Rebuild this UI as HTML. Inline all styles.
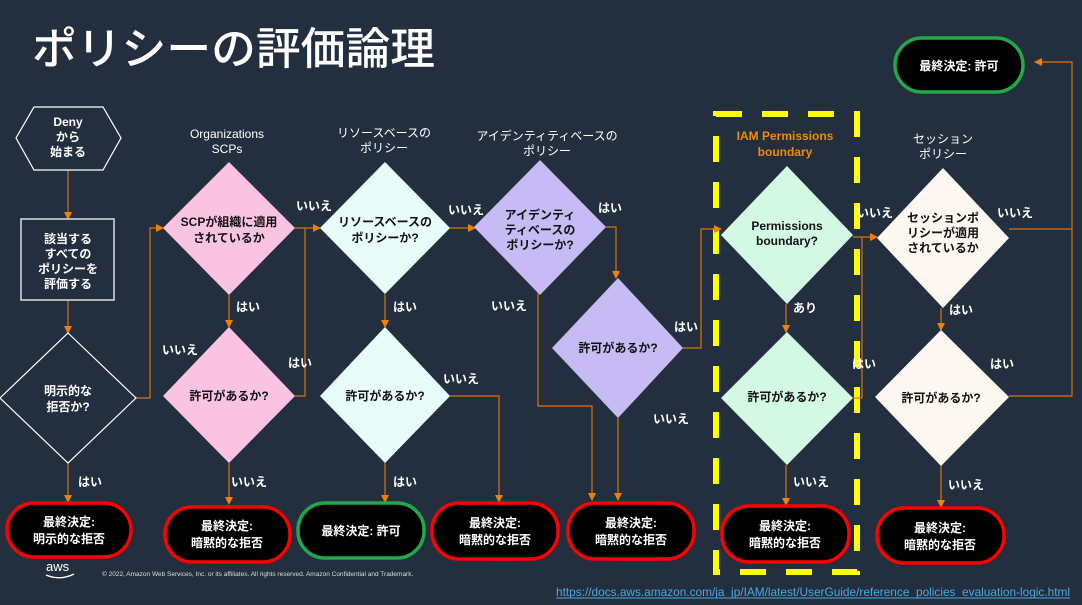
<!DOCTYPE html>
<html><head><meta charset="utf-8"><style>
html,body{margin:0;padding:0;background:#232f3e;}
svg{display:block;}
text{font-family:"Liberation Sans","Noto Sans CJK JP",sans-serif;}
.w{fill:#fff;font-weight:bold;font-size:12px;text-anchor:middle;}
.h{fill:#fff;font-size:12px;text-anchor:middle;}
.d{fill:#111;font-weight:bold;font-size:12px;text-anchor:middle;}
.c{stroke:#d9730d;stroke-width:1.2;fill:none;}
.lb{fill:#fff;font-weight:bold;font-size:12px;}
</style></head><body>
<svg width="1082" height="605" viewBox="0 0 1082 605" xmlns="http://www.w3.org/2000/svg">
<defs>
<marker id="a" markerWidth="8" markerHeight="8" refX="7" refY="4" orient="auto" markerUnits="userSpaceOnUse">
<path d="M0,0 L8,4 L0,8 Z" fill="#f08000"/></marker>
</defs>
<rect width="1082" height="605" fill="#232f3e"/>
<text x="32" y="64" fill="#fff" font-size="44" font-weight="500" textLength="403" lengthAdjust="spacingAndGlyphs">ポリシーの評価論理</text>

<!-- yellow dashed -->
<rect x="716" y="114" width="141" height="458" fill="none" stroke="#ffff00" stroke-width="6" stroke-dasharray="26,20"/>

<!-- connectors -->
<path class="c" d="M68,170 V219" marker-end="url(#a)"/>
<path class="c" d="M68,300 V333" marker-end="url(#a)"/>
<path class="c" d="M68,463 V502" marker-end="url(#a)"/>
<path class="c" d="M136,398 H150 V228 H163" marker-end="url(#a)"/>
<path class="c" d="M229,295 V327" marker-end="url(#a)"/>
<path class="c" d="M295,228 H320" marker-end="url(#a)"/>
<path class="c" d="M295,396 H305 V228"/>
<path class="c" d="M229,463 V504" marker-end="url(#a)"/>
<path class="c" d="M450,228 H475" marker-end="url(#a)"/>
<path class="c" d="M385,294 V327" marker-end="url(#a)"/>
<path class="c" d="M385,463 V502" marker-end="url(#a)"/>
<path class="c" d="M450,396 H499 V502" marker-end="url(#a)"/>
<path class="c" d="M538,290 V406 H592 V500" marker-end="url(#a)"/>
<path class="c" d="M618,418 V500" marker-end="url(#a)"/>
<path class="c" d="M606,227 H616 V278" marker-end="url(#a)"/>
<path class="c" d="M683,348 H701 V229 H721" marker-end="url(#a)"/>
<path class="c" d="M786,304 V332" marker-end="url(#a)"/>
<path class="c" d="M786,465 V505" marker-end="url(#a)"/>
<path class="c" d="M853,237 H877" marker-end="url(#a)"/>
<path class="c" d="M853,398 H862 V237"/>
<path class="c" d="M941,308 V330" marker-end="url(#a)"/>
<path class="c" d="M941,466 V507" marker-end="url(#a)"/>
<path class="c" d="M1009,229 H1072"/>
<path class="c" d="M1009,396 H1072 V62 H1035" marker-end="url(#a)"/>

<!-- start nodes -->
<polygon points="34,107 103,107 121,138 103,170 34,170 16,138" fill="none" stroke="#fff" stroke-width="1.2"/>
<text class="w" x="68" y="126">Deny</text><text class="w" x="68" y="141">から</text><text class="w" x="68" y="156">始まる</text>
<rect x="21" y="219" width="93" height="81" fill="none" stroke="#ddd" stroke-width="1.5"/>
<text class="w" x="68" y="243">該当する</text><text class="w" x="68" y="258">すべての</text><text class="w" x="68" y="273">ポリシーを</text><text class="w" x="68" y="288">評価する</text>
<polygon points="68,333 136,398 68,463 0,398" fill="none" stroke="#fff" stroke-width="1.2"/>
<text class="w" x="68" y="395">明示的な</text><text class="w" x="68" y="411">拒否か?</text>

<!-- headers -->
<text class="h" x="227" y="138">Organizations</text><text class="h" x="227" y="153">SCPs</text>
<text class="h" x="384" y="137">リソースベースの</text><text class="h" x="384" y="152">ポリシー</text>
<text class="h" x="547" y="140">アイデンティティベースの</text><text class="h" x="547" y="155">ポリシー</text>
<text x="785" y="140" fill="#f08a00" font-weight="bold" font-size="12" text-anchor="middle">IAM Permissions</text>
<text x="785" y="156" fill="#f08a00" font-weight="bold" font-size="12" text-anchor="middle">boundary</text>
<text class="h" x="943" y="143">セッション</text><text class="h" x="943" y="158">ポリシー</text>

<!-- diamonds -->
<polygon points="229,162 295,228 229,295 163,228" fill="#fbc3e2"/>
<text class="d" x="229" y="226">SCPが組織に適用</text><text class="d" x="229" y="242">されているか</text>
<polygon points="229,327 295,396 229,463 163,396" fill="#fbc3e2"/>
<text class="d" x="229" y="400">許可があるか?</text>
<polygon points="385,162 450,228 385,294 320,228" fill="#e8fdfa"/>
<text class="d" x="385" y="226">リソースベースの</text><text class="d" x="385" y="242">ポリシーか?</text>
<polygon points="540,160 606,227 540,295 474,227" fill="#c7bbf5"/>
<text class="d" x="540" y="219">アイデンティ</text><text class="d" x="540" y="234">ティベースの</text><text class="d" x="540" y="249">ポリシーか?</text>
<polygon points="385,327 450,396 385,463 320,396" fill="#e8fdfa"/>
<text class="d" x="385" y="400">許可があるか?</text>
<polygon points="618,278 683,348 618,418 552,348" fill="#c7bbf5"/>
<text class="d" x="618" y="352">許可があるか?</text>
<polygon points="787,166 853,235 787,304 721,235" fill="#d3f9e5"/>
<text class="d" x="787" y="230">Permissions</text><text class="d" x="787" y="245">boundary?</text>
<polygon points="787,332 853,398 787,465 721,398" fill="#d3f9e5"/>
<text class="d" x="787" y="401">許可があるか?</text>
<polygon points="943,168 1009,238 943,308 877,238" fill="#fdf7f2"/>
<text class="d" x="943" y="222">セッションポ</text><text class="d" x="943" y="237">リシーが適用</text><text class="d" x="943" y="252">されているか</text>
<polygon points="941,330 1009,397 941,466 875,397" fill="#fdf7f2"/>
<text class="d" x="941" y="402">許可があるか?</text>

<!-- labels -->
<text class="lb" x="78" y="486">はい</text>
<text class="lb" x="236" y="311">はい</text>
<text class="lb" x="296" y="210">いいえ</text>
<text class="lb" x="162" y="354">いいえ</text>
<text class="lb" x="288" y="367">はい</text>
<text class="lb" x="231" y="486">いいえ</text>
<text class="lb" x="448" y="214">いいえ</text>
<text class="lb" x="393" y="311">はい</text>
<text class="lb" x="393" y="486">はい</text>
<text class="lb" x="443" y="383">いいえ</text>
<text class="lb" x="491" y="310">いいえ</text>
<text class="lb" x="598" y="212">はい</text>
<text class="lb" x="674" y="331">はい</text>
<text class="lb" x="653" y="423">いいえ</text>
<text class="lb" x="793" y="312">あり</text>
<text class="lb" x="793" y="486">いいえ</text>
<text class="lb" x="857" y="217">いいえ</text>
<text class="lb" x="852" y="368">はい</text>
<text class="lb" x="997" y="217">いいえ</text>
<text class="lb" x="949" y="314">はい</text>
<text class="lb" x="990" y="368">はい</text>
<text class="lb" x="948" y="489">いいえ</text>

<!-- terminal boxes -->
<g stroke-width="3.5">
<rect x="895" y="38" width="128" height="54" rx="27" fill="#000" stroke="#22a84a"/>
<rect x="7" y="503" width="124" height="54" rx="27" fill="#000" stroke="#f00"/>
<rect x="165" y="507" width="125" height="55" rx="27" fill="#000" stroke="#f00"/>
<rect x="298" y="503" width="126" height="55" rx="27" fill="#000" stroke="#22a84a"/>
<rect x="432" y="503" width="126" height="56" rx="27" fill="#000" stroke="#f00"/>
<rect x="568" y="503" width="126" height="56" rx="27" fill="#000" stroke="#f00"/>
<rect x="722" y="506" width="127" height="56" rx="27" fill="#000" stroke="#f00"/>
<rect x="877" y="508" width="127" height="55" rx="27" fill="#000" stroke="#f00"/>
</g>
<text class="w" x="959" y="70">最終決定: 許可</text>
<text class="w" x="69" y="526">最終決定:</text><text class="w" x="69" y="543">明示的な拒否</text>
<text class="w" x="227" y="530">最終決定:</text><text class="w" x="227" y="547">暗黙的な拒否</text>
<text class="w" x="361" y="535">最終決定: 許可</text>
<text class="w" x="495" y="527">最終決定:</text><text class="w" x="495" y="544">暗黙的な拒否</text>
<text class="w" x="631" y="527">最終決定:</text><text class="w" x="631" y="544">暗黙的な拒否</text>
<text class="w" x="785" y="530">最終決定:</text><text class="w" x="785" y="547">暗黙的な拒否</text>
<text class="w" x="940" y="532">最終決定:</text><text class="w" x="940" y="549">暗黙的な拒否</text>

<!-- footer -->
<text x="46" y="571" fill="#fff" font-size="13">aws</text>
<path d="M46,575 Q60,581 74,574" stroke="#fff" stroke-width="1.3" fill="none"/>
<text x="102" y="576" fill="#ddd" font-size="6.5">© 2022, Amazon Web Services, Inc. or its affiliates. All rights reserved. Amazon Confidential and Trademark.</text>
<text x="556" y="596" fill="#4aa8e0" font-size="12" textLength="514" lengthAdjust="spacingAndGlyphs">https://docs.aws.amazon.com/ja_jp/IAM/latest/UserGuide/reference_policies_evaluation-logic.html</text>
<line x1="556" y1="598" x2="1070" y2="598" stroke="#4aa8e0" stroke-width="1"/>
</svg>
</body></html>
